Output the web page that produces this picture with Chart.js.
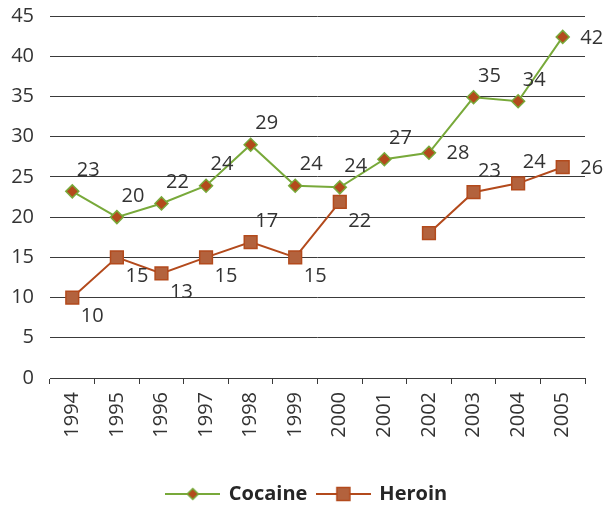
<!DOCTYPE html>
<html>
<head>
<meta charset="utf-8">
<script src="https://cdn.jsdelivr.net/npm/chart.js@4.4.1/dist/chart.umd.min.js"></script>
<style>
    html, body { margin: 0; padding: 0; background: #fff; }
    #wrap { width: 606px; height: 506px; }
</style>
</head>
<body>
<div id="wrap"><canvas id="drug-chart" width="606" height="506"></canvas></div>
<script>
// data
var years = ["1994", "1995", "1996", "1997", "1998", "1999", "2000", "2001", "2002", "2003", "2004", "2005"];
var cocaine = [23.2, 20.0, 21.7, 23.9, 29.0, 23.9, 23.7, 27.2, 28.0, 34.9, 34.4, 42.4];
var heroin = [10.0, 15.0, 13.0, 15.0, 16.9, 15.0, 21.9, null, 18.0, 23.1, 24.2, 26.2];
var yTicks = [0, 5, 10, 15, 20, 25, 30, 35, 40, 45];

// where each value label sits: ar = above right, r = right, br = below right
var cocaineLabelPos = ["ar", "ar", "ar", "ar", "ar", "ar", "ar", "ar", "r", "ar", "ar", "r"];
var heroinLabelPos = ["br", "br", "br", "br", "ar", "br", "br", null, null, "ar", "ar", "r"];
var labelOffsets = { ar: [16, -21], r: [29, 1], br: [20, 19] };

var green = "#78a93a";
var rust = "#b34a1c";
var squareFill = "#b3623d";
var textColor = "#333333";
var gridColor = "#3a3a3a";
var font = "'Open Sans', 'Noto Sans', sans-serif";

// legend icon: short line with the marker in the middle
function legendIcon(lineColor, shape, fill, border) {
    var c = document.createElement("canvas");
    c.width = 55;
    c.height = 16;
    var g = c.getContext("2d");
    g.strokeStyle = lineColor;
    g.lineWidth = 2;
    g.beginPath();
    g.moveTo(0, 8);
    g.lineTo(55, 8);
    g.stroke();
    g.fillStyle = fill;
    g.strokeStyle = border;
    g.lineWidth = 1.5;
    g.beginPath();
    if (shape === "diamond") {
        g.moveTo(27.5, 2.5); g.lineTo(33, 8); g.lineTo(27.5, 13.5); g.lineTo(22, 8);
    } else {
        g.rect(21, 1.5, 13, 13);
    }
    g.closePath();
    g.fill();
    g.stroke();
    return c;
}
var icons = [
    legendIcon(green, "diamond", rust, green),
    legendIcon(rust, "square", squareFill, rust)
];

// value labels next to the points
var valueLabels = {
    id: "valueLabels",
    afterDatasetsDraw: function (chart) {
        var ctx = chart.ctx;
        var placements = [cocaineLabelPos, heroinLabelPos];
        ctx.save();
        ctx.font = "20px " + font;
        ctx.fillStyle = textColor;
        ctx.textAlign = "center";
        ctx.textBaseline = "middle";
        chart.data.datasets.forEach(function (ds, i) {
            var meta = chart.getDatasetMeta(i);
            meta.data.forEach(function (pt, j) {
                var v = ds.data[j];
                var pos = placements[i][j];
                if (v === null || !pos) return;
                var off = labelOffsets[pos];
                ctx.fillText(Math.round(v), pt.x + off[0], pt.y + off[1]);
            });
        });
        ctx.restore();
    }
};

// legend centred on the whole canvas and a bit lower
var legendShift = {
    id: "legendShift",
    afterLayout: function (chart) {
        var lg = chart.legend;
        lg.left = 8;
        lg.right = chart.width;
        lg.top += 8;
        lg.bottom += 8;
    }
};

var ctx1 = document.getElementById("drug-chart").getContext("2d");
var myChart1 = new Chart(ctx1, {
    type: "line",
    data: {
        labels: years,
        datasets: [{
            label: "Cocaine",
            data: cocaine,
            borderColor: green,
            borderWidth: 2,
            pointStyle: "rectRot",
            pointRadius: 6.5,
            pointBackgroundColor: rust,
            pointBorderColor: green,
            pointBorderWidth: 1.5,
            tension: 0,
            spanGaps: false
        }, {
            label: "Heroin",
            data: heroin,
            borderColor: rust,
            borderWidth: 2,
            pointStyle: "rect",
            pointRadius: 9,
            pointBackgroundColor: squareFill,
            pointBorderColor: rust,
            pointBorderWidth: 1.5,
            tension: 0,
            spanGaps: false
        }]
    },
    options: {
        responsive: false,
        animation: false,
        layout: { padding: { top: 16, right: 21, bottom: 0, left: 0 } },
        scales: {
            x: {
                offset: true,
                grid: { display: true, drawOnChartArea: false, drawTicks: true, tickLength: 6, color: gridColor, offset: true },
                border: { display: true, color: gridColor, width: 1 },
                ticks: { minRotation: 90, maxRotation: 90, padding: 8, color: textColor, font: { family: font, size: 20 } },
                afterFit: function (scale) { scale.height = 88; }
            },
            y: {
                min: 0,
                max: 45,
                afterBuildTicks: function (scale) {
                    scale.ticks = yTicks.map(function (v) { return { value: v }; });
                },
                grid: { color: gridColor, lineWidth: 1, drawTicks: false },
                border: { display: false },
                ticks: { padding: 16, color: textColor, font: { family: font, size: 20 } },
                afterFit: function (scale) {
                    scale.width = 50;
                    scale.paddingTop = 12;
                    scale.paddingBottom = 12;
                }
            }
        },
        plugins: {
            legend: {
                position: "bottom",
                labels: {
                    usePointStyle: true,
                    pointStyleWidth: 52,
                    padding: 10,
                    color: "#262626",
                    font: { family: font, size: 20, weight: "bold" },
                    generateLabels: function (chart) {
                        var items = Chart.defaults.plugins.legend.labels.generateLabels(chart);
                        items.forEach(function (it, i) { it.pointStyle = icons[i]; });
                        return items;
                    }
                }
            },
            tooltip: { enabled: false }
        }
    },
    plugins: [valueLabels, legendShift]
});
</script>
</body>
</html>
